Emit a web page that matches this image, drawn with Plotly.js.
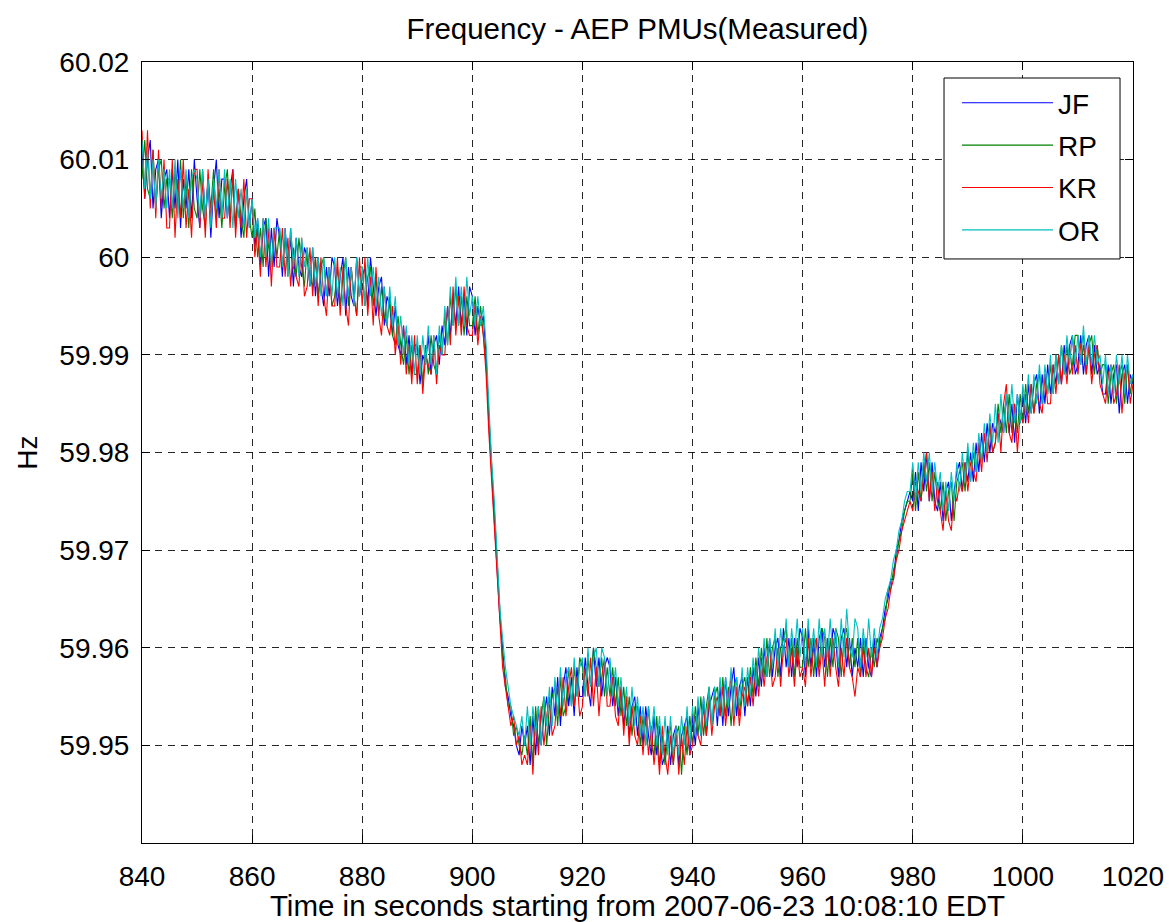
<!DOCTYPE html>
<html>
<head>
<meta charset="utf-8">
<script src="https://cdn.plot.ly/plotly-3.0.1.min.js"></script>
<style>html,body{margin:0;padding:0;background:#fff;}#chart{width:1169px;height:922px;}</style>
</head>
<body>
<div id="chart"></div>
<script>
// Sampling of the read-off values: one value every 0.5 s from 840 s to 1020 s
const T_START = 840;
const T_STEP = 0.5;

// Frequency deviation from 60 Hz, in mHz (0.001 Hz)
const JF = [
 11,6,10,12,5,9,10,4,8,9,  4,9,5,10,3,8,5,9,4,10,  6,3,9,4,8,2,7,10,4,8,  8,4,7,9,3,7,2,6,8,3,
 6,1,4,-1,3,4,-2,3,-1,4,  2,-2,3,-1,2,-3,2,-1,-2,1,  0,-3,1,-4,0,-3,-5,-1,-4,0,  -1,-5,-2,0,-6,-1,-4,-5,0,-4,
 -2,-1,-5,0,-3,-6,-3,-2,-7,-4,  -5,-8,-5,-9,-10,-7,-11,-8,-12,-9,  -9,-13,-10,-11,-8,-12,-9,-8,-11,-7,  -9,-5,-8,-4,-7,-3,-7,-4,-8,-3,
 -4,-8,-5,-7,-6,-10,-17,-22,-26,-32,  -37,-40,-44,-45,-47,-48,-50,-51,-48,-50,  -48,-52,-47,-51,-46,-50,-47,-45,-49,-44,  -47,-43,-48,-44,-42,-46,-43,-47,-42,-45,
 -45,-41,-44,-46,-40,-44,-41,-45,-42,-41,  -42,-46,-43,-47,-44,-48,-45,-49,-46,-45,  -49,-46,-50,-46,-49,-51,-47,-51,-48,-52,  -51,-48,-52,-49,-48,-52,-49,-48,-47,-51,
 -47,-50,-46,-49,-45,-49,-46,-45,-44,-48,  -44,-48,-43,-47,-44,-42,-47,-44,-43,-47,  -43,-46,-42,-45,-41,-44,-40,-43,-39,-43,  -40,-39,-43,-38,-42,-39,-43,-39,-42,-38,
 -39,-43,-38,-42,-39,-43,-39,-38,-42,-39,  -42,-38,-39,-43,-39,-38,-42,-39,-43,-40,  -42,-39,-43,-39,-42,-43,-39,-42,-39,-38,  -36,-35,-33,-33,-30,-29,-27,-26,-25,-24,
 -25,-22,-26,-21,-24,-20,-25,-21,-25,-26,  -23,-27,-24,-23,-27,-24,-22,-21,-24,-21,  -23,-20,-23,-19,-22,-18,-21,-17,-20,-17,  -18,-16,-17,-18,-14,-18,-15,-19,-14,-17,
 -14,-17,-13,-16,-13,-12,-16,-12,-15,-11,  -14,-11,-13,-10,-13,-9,-12,-9,-8,-12,  -11,-8,-12,-9,-8,-12,-9,-12,-11,-14,  -14,-11,-15,-12,-11,-16,-12,-11,-15,-12,
 -13
];
const RP = [
 8,12,7,6,11,5,9,10,5,8,  8,4,9,5,10,4,8,3,9,5,  4,9,5,3,8,5,9,4,7,3,  7,9,4,8,3,7,4,2,7,4,
 2,5,0,3,-1,4,1,-1,3,0,  3,-1,2,-2,3,-1,-2,2,-1,-3,  1,-2,-3,0,-4,-1,0,-4,-1,-5,  -4,-1,-5,-2,0,-5,-1,-4,-6,-1,
 -1,-5,-2,-1,-5,-2,-6,-3,-6,-7,  -4,-8,-9,-6,-9,-11,-8,-12,-9,-12,  -12,-9,-13,-9,-12,-8,-11,-12,-8,-10,  -6,-9,-4,-7,-3,-7,-4,-8,-4,-7,
 -7,-4,-8,-5,-8,-11,-16,-21,-27,-31,  -36,-41,-43,-46,-46,-49,-48,-50,-51,-49,  -51,-47,-52,-46,-50,-47,-45,-50,-46,-45,  -44,-48,-43,-47,-46,-42,-46,-42,-45,-41,
 -42,-45,-41,-44,-40,-42,-44,-41,-45,-42,  -45,-42,-46,-43,-47,-44,-48,-45,-49,-46,  -46,-50,-47,-50,-46,-50,-51,-47,-52,-49,  -52,-49,-48,-52,-49,-48,-53,-48,-51,-47,
 -50,-46,-49,-45,-49,-46,-44,-48,-45,-44,  -47,-43,-47,-44,-48,-44,-43,-47,-44,-43,  -46,-42,-45,-41,-44,-40,-43,-39,-43,-40,  -39,-43,-40,-39,-38,-42,-39,-43,-39,-42,
 -42,-38,-42,-39,-43,-39,-42,-38,-39,-43,  -39,-42,-38,-39,-43,-39,-38,-42,-39,-42,  -39,-43,-39,-42,-43,-40,-42,-39,-40,-38,  -37,-34,-34,-32,-31,-29,-28,-26,-25,-25,
 -22,-26,-22,-25,-21,-24,-21,-25,-22,-25,  -26,-23,-27,-24,-23,-27,-23,-22,-21,-24,  -20,-23,-20,-22,-19,-21,-18,-20,-17,-20,  -19,-15,-18,-15,-18,-14,-18,-15,-18,-14,
 -17,-13,-16,-13,-16,-13,-12,-15,-12,-14,  -11,-14,-10,-13,-9,-12,-9,-12,-11,-8,  -8,-11,-9,-12,-9,-8,-12,-9,-12,-11,  -11,-15,-12,-11,-15,-12,-11,-15,-11,-14,
 -12
];
const KR = [
 13,6,13,5,11,4,11,5,10,3,  3,10,2,8,4,10,3,7,2,9,  9,3,8,2,9,4,7,3,9,4,  4,8,3,9,2,7,3,8,2,6,
 6,0,3,-2,4,-1,3,-3,3,-1,  -1,3,-2,2,-3,1,-2,-3,2,-4,  -3,1,-4,0,-5,0,-4,-6,-1,-5,  -5,0,-6,-1,-5,-7,-1,-4,-6,0,
 -5,0,-6,-2,-7,-1,-6,-8,-3,-7,  -8,-5,-10,-7,-11,-7,-12,-9,-13,-8,  -13,-9,-14,-10,-11,-12,-8,-13,-9,-10,  -10,-5,-9,-3,-8,-4,-8,-3,-7,-8,
 -8,-5,-9,-6,-8,-12,-18,-23,-27,-33,  -38,-42,-44,-46,-48,-47,-50,-49,-52,-51,  -52,-48,-53,-47,-51,-46,-50,-47,-45,-49,  -48,-44,-47,-43,-47,-44,-42,-46,-43,-47,
 -46,-42,-45,-41,-46,-42,-47,-43,-41,-46,  -46,-43,-47,-48,-44,-49,-45,-50,-46,-49,  -50,-47,-51,-47,-51,-48,-52,-49,-53,-48,  -51,-53,-49,-52,-48,-53,-49,-52,-48,-51,
 -50,-47,-49,-50,-46,-49,-45,-49,-46,-45,  -47,-44,-48,-45,-43,-48,-44,-48,-45,-44,  -46,-43,-46,-42,-45,-41,-44,-41,-40,-44,  -43,-40,-44,-40,-39,-43,-40,-44,-40,-43,
 -42,-44,-39,-43,-40,-39,-43,-40,-44,-39,  -43,-39,-42,-44,-40,-43,-39,-42,-43,-45,  -42,-43,-40,-43,-40,-43,-40,-42,-40,-39,  -37,-36,-34,-33,-31,-30,-28,-27,-26,-25,
 -26,-23,-24,-25,-22,-20,-25,-22,-26,-23,  -26,-28,-24,-27,-28,-24,-25,-23,-24,-21,  -24,-21,-22,-23,-19,-22,-18,-21,-17,-20,  -19,-16,-20,-15,-13,-18,-19,-15,-20,-16,
 -17,-14,-17,-13,-16,-14,-15,-16,-12,-15,  -15,-11,-14,-10,-13,-10,-13,-9,-12,-9,  -12,-9,-8,-12,-9,-13,-10,-9,-13,-14,  -15,-12,-11,-15,-14,-11,-16,-12,-11,-15,
 -13
];
const OR = [
 12,7,11,6,10,5,10,6,9,5,  9,5,10,4,9,5,9,4,8,9,  8,4,9,4,8,3,8,5,9,4,  9,4,8,3,8,4,7,3,7,3,
 6,2,4,0,4,0,4,-1,3,3,  3,-1,3,-2,3,-1,2,-2,2,-1,  1,-3,1,-3,0,-4,0,-4,-1,-4,  0,-4,-1,-5,0,-4,-1,-5,0,-4,
 -1,-5,0,-4,-1,-5,-2,-6,-3,-7,  -3,-7,-4,-9,-6,-10,-7,-11,-8,-12,  -8,-12,-8,-11,-7,-11,-8,-12,-7,-10,  -5,-9,-3,-7,-2,-7,-3,-7,-2,-6,
 -4,-7,-4,-7,-5,-9,-15,-21,-25,-31,  -36,-39,-42,-44,-46,-47,-48,-49,-47,-50,  -46,-50,-46,-49,-46,-50,-45,-48,-44,-48,  -43,-47,-42,-46,-43,-42,-46,-41,-45,-42,
 -41,-45,-40,-44,-41,-40,-44,-40,-41,-45,  -41,-45,-42,-46,-43,-47,-44,-48,-44,-48,  -45,-49,-46,-50,-46,-49,-46,-50,-47,-51,  -47,-51,-47,-51,-48,-51,-47,-50,-46,-50,
 -46,-49,-45,-49,-45,-48,-44,-48,-44,-47,  -43,-47,-43,-46,-42,-47,-43,-46,-42,-46,  -42,-45,-41,-44,-40,-43,-39,-43,-39,-42,  -38,-42,-38,-41,-37,-42,-38,-41,-37,-41,
 -38,-42,-37,-41,-38,-42,-37,-41,-38,-41,  -37,-41,-38,-42,-37,-41,-36,-40,-41,-37,  -38,-42,-38,-41,-37,-41,-38,-41,-38,-37,  -35,-34,-33,-31,-30,-28,-27,-25,-24,-24,
 -21,-25,-21,-24,-20,-23,-20,-24,-21,-24,  -22,-26,-23,-26,-22,-25,-21,-24,-20,-23,  -19,-23,-19,-22,-18,-21,-17,-20,-16,-19,  -15,-19,-14,-18,-14,-17,-13,-17,-14,-17,
 -13,-16,-12,-16,-12,-15,-11,-15,-11,-14,  -10,-14,-10,-13,-9,-12,-8,-11,-8,-11,  -8,-11,-7,-11,-8,-11,-8,-11,-10,-13,  -10,-14,-11,-14,-10,-13,-10,-14,-10,-13,
 -12
];

const SERIES_NAMES = ['JF', 'RP', 'KR', 'OR'];
const SERIES_VALUES = [JF, RP, KR, OR];
const X_TICKS = [840, 860, 880, 900, 920, 940, 960, 980, 1000, 1020];
const Y_TICKS = [59.95, 59.96, 59.97, 59.98, 59.99, 60.00, 60.01, 60.02];
const Y_TICK_TEXT = ['59.95', '59.96', '59.97', '59.98', '59.99', '60', '60.01', '60.02'];

const COLORS = ['rgb(0,0,255)', 'rgb(0,128,0)', 'rgb(255,0,0)', 'rgb(0,191,191)'];
const FONT = 'Liberation Sans, Arial, Helvetica, sans-serif';

const traces = SERIES_VALUES.map((vals, k) => ({
  type: 'scatter',
  mode: 'lines',
  name: SERIES_NAMES[k],
  legendgroup: SERIES_NAMES[k],
  x: vals.map((_, i) => T_START + i * T_STEP),
  y: vals.map(v => 60 + v / 1000),
  line: {color: COLORS[k], width: 1.1},
  hoverinfo: 'skip'
}));

const axisCommon = {
  showline: true, linecolor: '#000', linewidth: 1, mirror: 'ticks',
  ticks: 'inside', ticklen: 8, tickcolor: '#000', tickwidth: 1,
  showgrid: true, gridcolor: 'rgba(0,0,0,0.85)', gridwidth: 1, griddash: '7px,6px',
  zeroline: false,
  tickfont: {family: FONT, size: 28, color: '#000'}
};

const layout = {
  width: 1169, height: 922,
  margin: {l: 142, r: 36, t: 62, b: 79, pad: 0},
  paper_bgcolor: '#fff', plot_bgcolor: '#fff',
  font: {family: FONT, color: '#000'},
  title: {
    text: 'Frequency - AEP PMUs(Measured)',
    font: {family: FONT, size: 29.5, color: '#000'},
    x: 0.5453, xanchor: 'center', xref: 'container',
    y: 0.969, yanchor: 'middle', yref: 'container'
  },
  xaxis: Object.assign({}, axisCommon, {
    range: [840, 1020], tickvals: X_TICKS, ticklabelstandoff: 8,
    title: {text: 'Time in seconds starting from 2007-06-23 10:08:10 EDT',
            font: {family: FONT, size: 29.5, color: '#000'}, standoff: 7}
  }),
  yaxis: Object.assign({}, axisCommon, {
    range: [59.94, 60.02], tickvals: Y_TICKS, ticktext: Y_TICK_TEXT, ticklabelstandoff: 6,
    title: {text: 'Hz', font: {family: FONT, size: 28, color: '#000'}, standoff: 13}
  }),
  shapes: [{
    type: 'rect', xref: 'paper', yref: 'paper', layer: 'above',
    x0: 0.8093, x1: 0.9869, y0: 0.7478, y1: 0.9795,
    fillcolor: '#fff', line: {color: '#000', width: 1}
  }],
  showlegend: true,
  legend: {
    x: 0.8224, xanchor: 'left', y: 0.9795, yanchor: 'top',
    bgcolor: 'rgba(0,0,0,0)', borderwidth: 0,
    font: {family: FONT, size: 28, color: '#000'},
    tracegroupgap: 3, itemwidth: 91
  }
};

Plotly.newPlot('chart', traces, layout, {displayModeBar: false, staticPlot: true});
</script>
</body>
</html>
